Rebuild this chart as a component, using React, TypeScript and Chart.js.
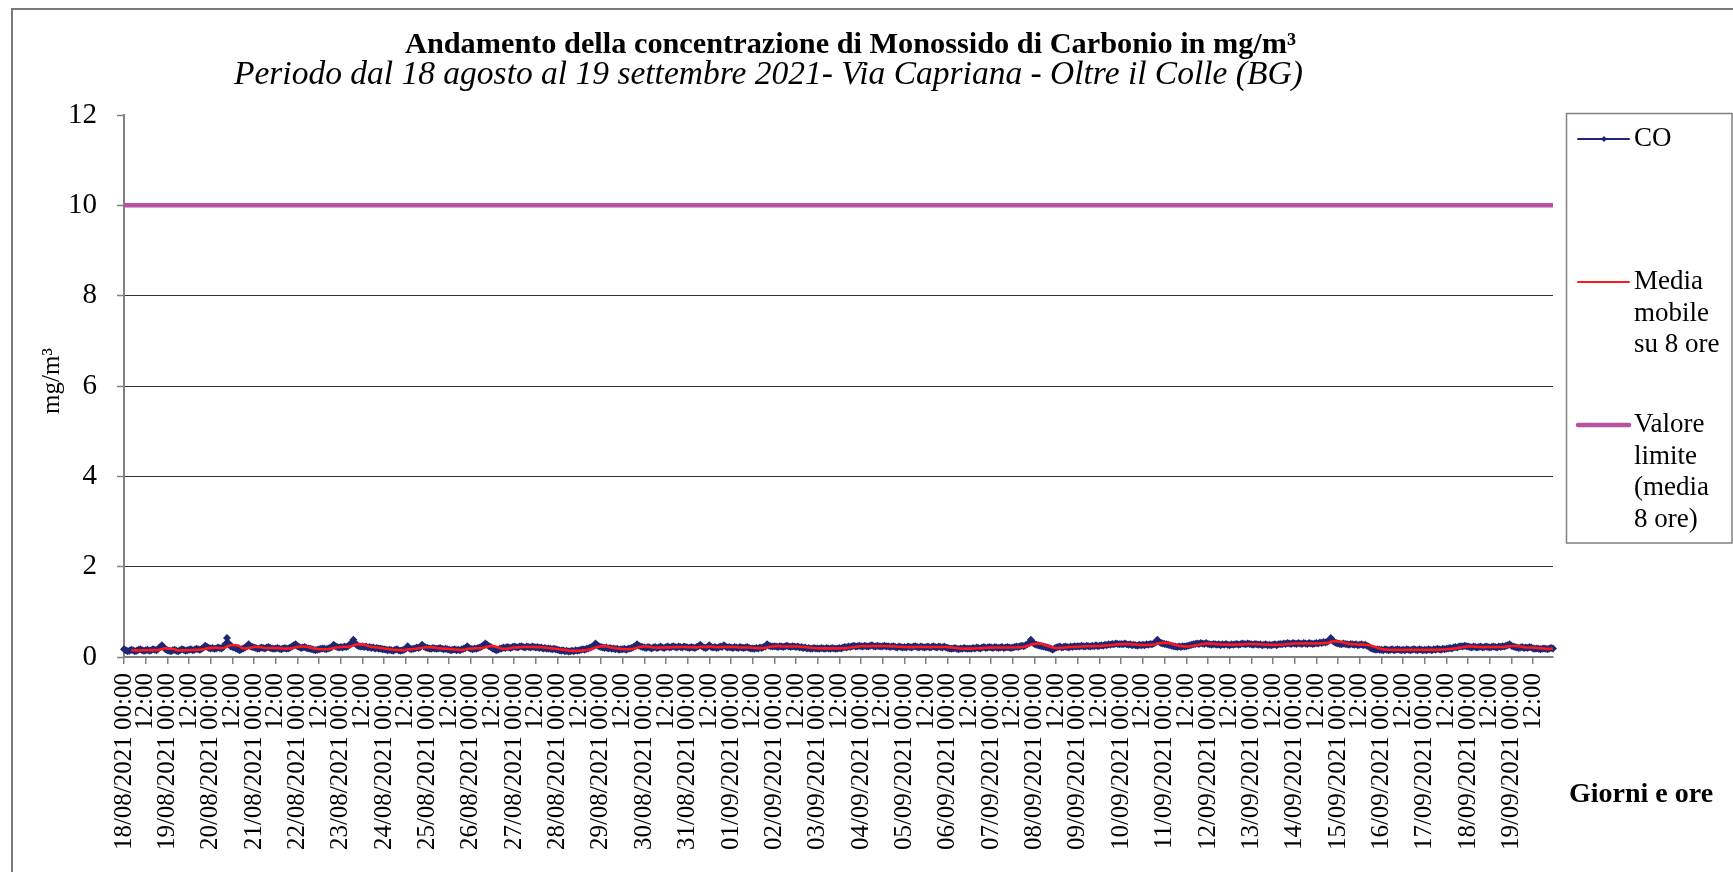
import React, { useEffect, useRef } from 'react';
import { Chart, registerables } from 'chart.js';

Chart.register(...registerables);

const chartTitle = 'Andamento della concentrazione di Monossido di Carbonio in mg/m³';
const chartSubtitle = 'Periodo dal 18 agosto al 19 settembre 2021- Via Capriana - Oltre il Colle (BG)';
const xAxisTitle = 'Giorni e ore';
const yAxisTitle = 'mg/m³';

const seriesLabels = ['CO', 'Media mobile su 8 ore', 'Valore limite (media 8 ore)'];

const days = [
  '18/08/2021', '19/08/2021', '20/08/2021', '21/08/2021', '22/08/2021', '23/08/2021',
  '24/08/2021', '25/08/2021', '26/08/2021', '27/08/2021', '28/08/2021', '29/08/2021',
  '30/08/2021', '31/08/2021', '01/09/2021', '02/09/2021', '03/09/2021', '04/09/2021',
  '05/09/2021', '06/09/2021', '07/09/2021', '08/09/2021', '09/09/2021', '10/09/2021',
  '11/09/2021', '12/09/2021', '13/09/2021', '14/09/2021', '15/09/2021', '16/09/2021',
  '17/09/2021', '18/09/2021', '19/09/2021',
];

const tickLabels: string[] = days.flatMap((d) => [d + ' 00:00', '12:00']);

// hourly CO concentrations (mg/m3), one row per day, 00:00 .. 23:00
const coValues: number[] = [
  0.17,0.15,0.13,0.14,0.16,0.15,0.13,0.14,0.16,0.17,0.15,0.14, 0.15,0.16,0.14,0.15,0.17,0.16,0.15,0.18,0.22,0.26,0.21,0.17,
  0.15,0.14,0.13,0.15,0.16,0.14,0.13,0.15,0.17,0.16,0.14,0.15, 0.16,0.17,0.15,0.16,0.18,0.17,0.16,0.18,0.21,0.25,0.22,0.20,
  0.19,0.20,0.18,0.19,0.21,0.20,0.19,0.22,0.28,0.42,0.30,0.24, 0.22,0.21,0.19,0.17,0.15,0.17,0.19,0.21,0.24,0.28,0.24,0.22,
  0.21,0.20,0.18,0.19,0.21,0.20,0.19,0.21,0.22,0.20,0.19,0.18, 0.19,0.20,0.18,0.17,0.19,0.20,0.18,0.19,0.21,0.23,0.26,0.28,
  0.24,0.22,0.20,0.21,0.22,0.20,0.19,0.18,0.17,0.16,0.15,0.16, 0.17,0.18,0.19,0.18,0.17,0.19,0.20,0.22,0.27,0.24,0.22,0.21,
  0.22,0.21,0.23,0.22,0.24,0.27,0.32,0.38,0.30,0.26,0.24,0.23, 0.24,0.22,0.23,0.21,0.22,0.20,0.21,0.19,0.20,0.18,0.19,0.17,
  0.17,0.16,0.15,0.16,0.15,0.14,0.16,0.17,0.15,0.14,0.15,0.16, 0.18,0.24,0.19,0.17,0.18,0.19,0.21,0.20,0.22,0.27,0.23,0.21,
  0.20,0.19,0.18,0.20,0.19,0.18,0.19,0.20,0.18,0.17,0.18,0.17, 0.16,0.15,0.16,0.17,0.15,0.16,0.15,0.17,0.18,0.20,0.24,0.20,
  0.18,0.17,0.19,0.18,0.20,0.21,0.23,0.26,0.30,0.27,0.24,0.22, 0.19,0.17,0.15,0.16,0.18,0.19,0.21,0.20,0.22,0.21,0.20,0.22,
  0.23,0.22,0.21,0.23,0.24,0.22,0.21,0.23,0.22,0.21,0.23,0.22, 0.21,0.22,0.20,0.21,0.19,0.20,0.18,0.19,0.18,0.17,0.18,0.17,
  0.16,0.15,0.14,0.15,0.13,0.14,0.12,0.13,0.14,0.13,0.15,0.14, 0.15,0.16,0.17,0.16,0.18,0.19,0.21,0.22,0.25,0.30,0.26,0.23,
  0.22,0.21,0.20,0.21,0.19,0.20,0.18,0.19,0.17,0.18,0.16,0.17, 0.17,0.18,0.16,0.18,0.19,0.20,0.22,0.24,0.28,0.25,0.23,0.22,
  0.21,0.20,0.22,0.21,0.19,0.21,0.22,0.20,0.21,0.23,0.21,0.20, 0.22,0.23,0.21,0.22,0.24,0.22,0.21,0.23,0.22,0.21,0.23,0.22,
  0.21,0.20,0.22,0.21,0.20,0.22,0.24,0.27,0.23,0.21,0.20,0.22, 0.26,0.22,0.21,0.22,0.20,0.21,0.23,0.22,0.26,0.23,0.21,0.22,
  0.21,0.20,0.22,0.21,0.20,0.22,0.21,0.20,0.21,0.22,0.20,0.19, 0.19,0.18,0.20,0.19,0.21,0.20,0.22,0.23,0.28,0.25,0.24,0.23,
  0.24,0.23,0.22,0.24,0.23,0.22,0.24,0.25,0.23,0.22,0.24,0.23, 0.22,0.23,0.21,0.22,0.20,0.21,0.19,0.20,0.18,0.19,0.20,0.19,
  0.19,0.18,0.20,0.19,0.18,0.20,0.19,0.18,0.20,0.19,0.18,0.19, 0.20,0.19,0.21,0.22,0.21,0.23,0.22,0.24,0.25,0.23,0.24,0.25,
  0.24,0.23,0.25,0.24,0.23,0.25,0.26,0.24,0.23,0.25,0.24,0.23, 0.24,0.25,0.23,0.24,0.22,0.23,0.24,0.22,0.21,0.23,0.22,0.21,
  0.22,0.21,0.23,0.22,0.21,0.23,0.24,0.22,0.21,0.23,0.22,0.21, 0.22,0.23,0.21,0.22,0.24,0.22,0.21,0.23,0.22,0.21,0.23,0.21,
  0.20,0.19,0.18,0.19,0.20,0.18,0.17,0.19,0.18,0.20,0.19,0.18, 0.19,0.18,0.20,0.19,0.21,0.20,0.19,0.21,0.22,0.20,0.21,0.22,
  0.21,0.20,0.22,0.21,0.20,0.21,0.22,0.20,0.21,0.22,0.21,0.20, 0.21,0.22,0.23,0.22,0.24,0.25,0.24,0.26,0.28,0.31,0.38,0.32,
  0.29,0.27,0.26,0.25,0.24,0.23,0.22,0.21,0.20,0.19,0.16,0.19, 0.21,0.22,0.23,0.21,0.22,0.23,0.22,0.21,0.23,0.22,0.24,0.23,
  0.24,0.23,0.25,0.24,0.23,0.25,0.24,0.23,0.25,0.24,0.26,0.24, 0.25,0.26,0.25,0.27,0.26,0.28,0.27,0.29,0.28,0.30,0.29,0.28,
  0.29,0.28,0.30,0.28,0.27,0.28,0.26,0.27,0.26,0.25,0.27,0.26, 0.27,0.26,0.28,0.27,0.29,0.28,0.30,0.32,0.38,0.33,0.31,0.30,
  0.29,0.28,0.27,0.26,0.25,0.24,0.23,0.22,0.23,0.22,0.24,0.23, 0.24,0.25,0.26,0.27,0.28,0.29,0.30,0.29,0.31,0.30,0.29,0.31,
  0.29,0.28,0.27,0.29,0.28,0.27,0.28,0.26,0.28,0.27,0.29,0.27, 0.26,0.28,0.27,0.28,0.29,0.27,0.28,0.30,0.29,0.28,0.30,0.29,
  0.28,0.27,0.29,0.28,0.27,0.28,0.26,0.27,0.28,0.26,0.27,0.26, 0.27,0.28,0.26,0.28,0.29,0.28,0.30,0.29,0.31,0.30,0.29,0.31,
  0.30,0.29,0.31,0.30,0.29,0.31,0.30,0.29,0.31,0.30,0.29,0.30, 0.31,0.30,0.32,0.31,0.33,0.32,0.34,0.36,0.42,0.36,0.33,0.31,
  0.30,0.29,0.28,0.30,0.29,0.28,0.27,0.29,0.28,0.27,0.28,0.26, 0.27,0.28,0.26,0.27,0.25,0.23,0.20,0.18,0.17,0.16,0.17,0.16,
  0.16,0.15,0.17,0.16,0.15,0.16,0.17,0.15,0.16,0.17,0.16,0.15, 0.16,0.15,0.17,0.16,0.15,0.16,0.17,0.16,0.15,0.17,0.16,0.15,
  0.16,0.15,0.17,0.16,0.15,0.17,0.16,0.18,0.17,0.16,0.18,0.17, 0.18,0.19,0.20,0.19,0.21,0.22,0.21,0.23,0.24,0.23,0.25,0.24,
  0.23,0.22,0.21,0.23,0.22,0.21,0.22,0.23,0.21,0.22,0.23,0.22, 0.21,0.22,0.23,0.22,0.21,0.23,0.22,0.24,0.23,0.25,0.26,0.28,
  0.25,0.23,0.22,0.21,0.20,0.21,0.22,0.20,0.21,0.20,0.22,0.21, 0.19,0.18,0.19,0.18,0.17,0.18,0.19,0.18,0.17,0.19,0.20,0.19,
];

const limitValue = 10;
const MA_WINDOW = 8;

// 8-hour moving average of the CO series
const mediaMobile: (number | null)[] = coValues.map((_, i) => {
  if (i < 4) return null;
  const win = coValues.slice(Math.max(0, i - MA_WINDOW + 1), i + 1);
  return win.reduce((a, b) => a + b, 0) / win.length;
});

const SERIF = '"Liberation Serif", "Times New Roman", serif';
const COLORS = { co: '#1f2673', ma: '#ff1a1a', limit: '#b8519f', axis: '#808080', grid: '#333333' };

function wrapText(ctx: CanvasRenderingContext2D, text: string, maxW: number): string[] {
  const words = text.split(' ');
  const lines: string[] = [];
  let cur = '';
  for (const w of words) {
    const test = cur ? cur + ' ' + w : w;
    if (cur && ctx.measureText(test).width > maxW) {
      lines.push(cur);
      cur = w;
    } else cur = test;
  }
  if (cur) lines.push(cur);
  return lines;
}

const decorPlugin = {
  id: 'decor',
  beforeDraw(chart: any) {
    const ctx = chart.ctx as CanvasRenderingContext2D;
    ctx.save();
    ctx.fillStyle = '#ffffff';
    ctx.fillRect(0, 0, chart.width, chart.height);
    ctx.restore();
  },
  afterDraw(chart: any) {
    const ctx = chart.ctx as CanvasRenderingContext2D;
    ctx.save();
    // outer frame
    ctx.strokeStyle = '#7a7a7a';
    ctx.lineWidth = 2;
    ctx.beginPath();
    ctx.moveTo(12, 900);
    ctx.lineTo(12, 9);
    ctx.lineTo(1760, 9);
    ctx.stroke();

    // titles
    ctx.fillStyle = '#000';
    ctx.textBaseline = 'middle';
    ctx.textAlign = 'left';
    ctx.font = `bold 30.3px ${SERIF}`;
    ctx.fillText(chartTitle, 405, 45);
    ctx.font = `italic 33.5px ${SERIF}`;
    ctx.fillText(chartSubtitle, 234, 75);

    // x axis title
    ctx.font = `bold 28px ${SERIF}`;
    ctx.fillText(xAxisTitle, 1569, 795);

    // y axis title
    ctx.save();
    ctx.translate(52, 381);
    ctx.rotate(-Math.PI / 2);
    ctx.textAlign = 'center';
    ctx.font = `25px ${SERIF}`;
    ctx.fillText(yAxisTitle, 0, 0);
    ctx.restore();

    // legend
    ctx.strokeStyle = '#808080';
    ctx.lineWidth = 1.5;
    ctx.strokeRect(1566.5, 113.5, 1732 - 1566.5, 543 - 113.5);
    ctx.font = `27px ${SERIF}`;
    const ds = chart.data.datasets;
    const itemY = [139, 282, 425];
    const lineH = 31.7;
    ds.forEach((d: any, i: number) => {
      const y = itemY[i];
      ctx.strokeStyle = d.borderColor;
      ctx.lineWidth = i === 2 ? 4.5 : 2;
      ctx.lineCap = 'round';
      ctx.beginPath();
      ctx.moveTo(1578, y);
      ctx.lineTo(1629, y);
      ctx.stroke();
      if (i === 0) {
        ctx.fillStyle = d.borderColor;
        ctx.beginPath();
        ctx.moveTo(1604, y - 3);
        ctx.lineTo(1607, y);
        ctx.lineTo(1604, y + 3);
        ctx.lineTo(1601, y);
        ctx.closePath();
        ctx.fill();
      }
      ctx.fillStyle = '#000';
      const lines = wrapText(ctx, d.label, 92);
      lines.forEach((ln, k) => ctx.fillText(ln, 1634, y + k * lineH));
    });
    ctx.restore();
  },
};

export default function App() {
  const ref = useRef<HTMLCanvasElement | null>(null);

  useEffect(() => {
    document.body.style.margin = '0';
    const canvas = ref.current;
    if (!canvas) return;
    const chart = new Chart(canvas, {
      type: 'line',
      data: {
        datasets: [
          {
            label: seriesLabels[0],
            data: coValues.map((v, i) => ({ x: i, y: v })),
            borderColor: COLORS.co,
            backgroundColor: COLORS.co,
            borderWidth: 2.4,
            pointStyle: 'rectRot',
            pointRadius: 4,
            pointBorderWidth: 0,
            pointBackgroundColor: COLORS.co,
            tension: 0,
            clip: false as any,
            order: 2,
          },
          {
            label: seriesLabels[1],
            data: mediaMobile.map((v, i) => ({ x: i, y: v })),
            borderColor: COLORS.ma,
            backgroundColor: COLORS.ma,
            borderWidth: 2.6,
            pointRadius: 0,
            tension: 0,
            spanGaps: false,
            order: 1,
          },
          {
            label: seriesLabels[2],
            data: [
              { x: 0, y: limitValue },
              { x: coValues.length - 1, y: limitValue },
            ],
            borderColor: COLORS.limit,
            backgroundColor: COLORS.limit,
            borderWidth: 4.5,
            pointRadius: 0,
            order: 0,
          },
        ],
      },
      options: {
        responsive: false,
        animation: false,
        events: [],
        layout: { padding: { left: 12, right: 180, top: 115, bottom: 0 } },
        plugins: {
          legend: { display: false },
          tooltip: { enabled: false },
          title: { display: false },
        },
        scales: {
          x: {
            type: 'linear',
            min: 0,
            max: coValues.length - 1,
            afterBuildTicks: (s: any) => {
              s.ticks = tickLabels.map((_, k) => ({ value: k * 12 }));
            },
            afterFit: (s: any) => {
              s.height = 215;
            },
            grid: {
              drawOnChartArea: false,
              drawTicks: true,
              tickLength: 7,
              color: COLORS.axis,
              lineWidth: 1.5,
            },
            border: { display: true, color: COLORS.axis, width: 2 },
            ticks: {
              autoSkip: false,
              maxRotation: 90,
              minRotation: 90,
              padding: 9,
              color: '#000',
              font: { family: SERIF, size: 25 },
              callback: (v: any) => tickLabels[Math.round(Number(v) / 12)] ?? '',
            },
          },
          y: {
            min: 0,
            max: 12,
            afterFit: (s: any) => {
              s.width = 112;
            },
            ticks: {
              stepSize: 2,
              padding: 20,
              color: '#000',
              font: { family: SERIF, size: 29 },
            },
            grid: {
              color: (c: any) =>
                c.tick && (c.tick.value === 0 || c.tick.value === 12) ? 'rgba(0,0,0,0)' : COLORS.grid,
              lineWidth: 1,
              tickLength: 7,
              tickColor: COLORS.axis,
              tickWidth: 1.5,
            },
            border: { display: true, color: COLORS.axis, width: 2 },
          },
        },
      },
      plugins: [decorPlugin],
    } as any);
    return () => chart.destroy();
  }, []);

  return (
    <div style={{ width: 1733, height: 872, overflow: 'hidden' }}>
      <canvas ref={ref} width={1733} height={872} style={{ display: 'block', width: 1733, height: 872 }} />
    </div>
  );
}
